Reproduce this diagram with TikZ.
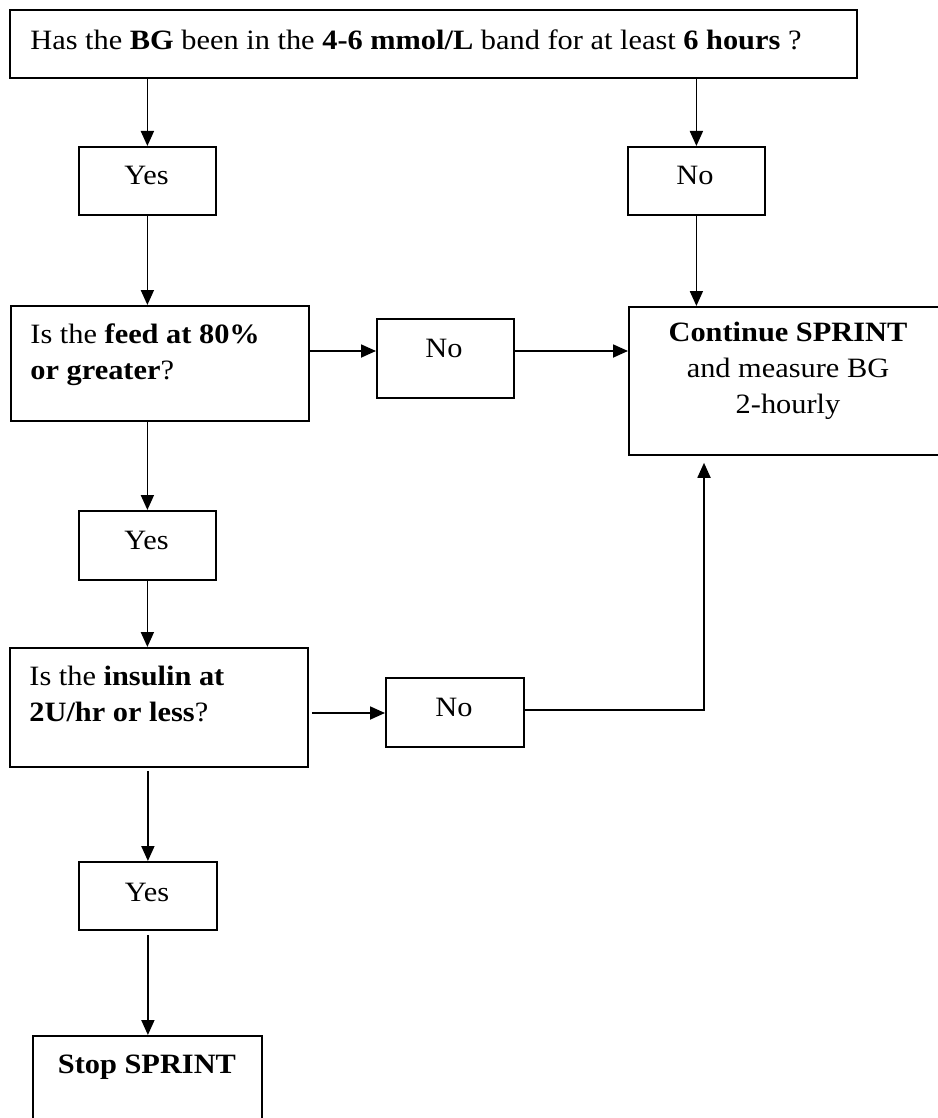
\documentclass[tikz,border=0pt]{standalone}
\usepackage{fontspec}
\setmainfont[FakeStretch=1.085]{Liberation Serif}
\usetikzlibrary{arrows.meta}
\begin{document}
\begin{tikzpicture}[x=0.5pt,y=-0.5pt,
  box/.style={draw, line width=0.9pt, inner sep=0pt, anchor=north west},
  txt/.style={inner sep=0pt, font=\fontsize{14}{18}\selectfont},
  arr/.style={line width=0.9pt, -{Triangle[length=7.5pt,width=6.5pt]}}]
\useasboundingbox (0,0) rectangle (937,1118);
% boxes
\node[box, minimum width=423.5pt, minimum height=34pt] (top) at (9,9) {};
\node[box, minimum width=68.5pt, minimum height=34pt] (yes1) at (78,146) {};
\node[box, minimum width=68.5pt, minimum height=34pt] (no1) at (627,146) {};
\node[box, minimum width=149pt, minimum height=57.5pt] (feed) at (10,305) {};
\node[box, minimum width=68.5pt, minimum height=39.5pt] (no2) at (376,318) {};
\node[box, minimum width=160pt, minimum height=74pt] (cont) at (628,306) {};
\node[box, minimum width=68.5pt, minimum height=34.5pt] (yes2) at (78,510) {};
\node[box, minimum width=149pt, minimum height=59.5pt] (ins) at (9,647) {};
\node[box, minimum width=69pt, minimum height=34.5pt] (no3) at (385,677) {};
\node[box, minimum width=69pt, minimum height=34pt] (yes3) at (78,861) {};
\node[box, minimum width=114.5pt, minimum height=50pt] (stop) at (32,1035) {};
% texts
\node[txt, anchor=base west] (ttop) at (30,50) {Has the \textbf{BG} been in the \textbf{4-6 mmol/L} band for at least \textbf{6 hours} ?};
\node[txt, anchor=base] (tyes1) at (146.5,185) {Yes};
\node[txt, anchor=base] (tno1) at (695,185) {No};
\node[txt, anchor=base west, align=left] (tfeed) at (30,379) {Is the \textbf{feed at 80\%}\\\textbf{or greater}?};
\node[txt, anchor=base] (tno2) at (444,357) {No};
\node[txt, anchor=base, align=center] (tcont) at (788,413) {\textbf{Continue SPRINT}\\and measure BG\\2-hourly};
\node[txt, anchor=base] (tyes2) at (146.5,549) {Yes};
\node[txt, anchor=base west, align=left] (tins) at (29,721) {Is the \textbf{insulin at}\\\textbf{2U/hr or less}?};
\node[txt, anchor=base] (tno3) at (454,716) {No};
\node[txt, anchor=base] (tyes3) at (147,901) {Yes};
\node[txt, anchor=base] (tstop) at (147,1073) {\textbf{Stop SPRINT}};
% connectors
\coordinate (a) at (0,351);
\coordinate (b) at (0,713);
\coordinate (c) at (704,710);
\draw[arr] (top.south -| yes1.north) -- (yes1.north);
\draw[arr] (top.south -| no1.north) -- (no1.north);
\draw[arr] (yes1.south) -- (yes1.south |- feed.north);
\draw[arr] (no1.south) -- (no1.south |- cont.north);
\draw[arr] (feed.east |- a) -- (no2.west |- a);
\draw[arr] (no2.east |- a) -- (cont.west |- a);
\draw[arr] (feed.south -| yes2.north) -- (yes2.north);
\draw[arr] (yes2.south) -- (yes2.south |- ins.north);
\draw[arr] ([xshift=1.5pt]ins.east |- b) -- (no3.west |- b);
\draw[arr] (no3.east |- c) -- (c) -- ([yshift=-3.5pt]cont.south -| c);
\draw[arr] ([yshift=-1.5pt]ins.south -| yes3.north) -- (yes3.north);
\draw[arr] ([yshift=-2pt]yes3.south) -- (yes3.south |- stop.north);
\end{tikzpicture}
\end{document}
